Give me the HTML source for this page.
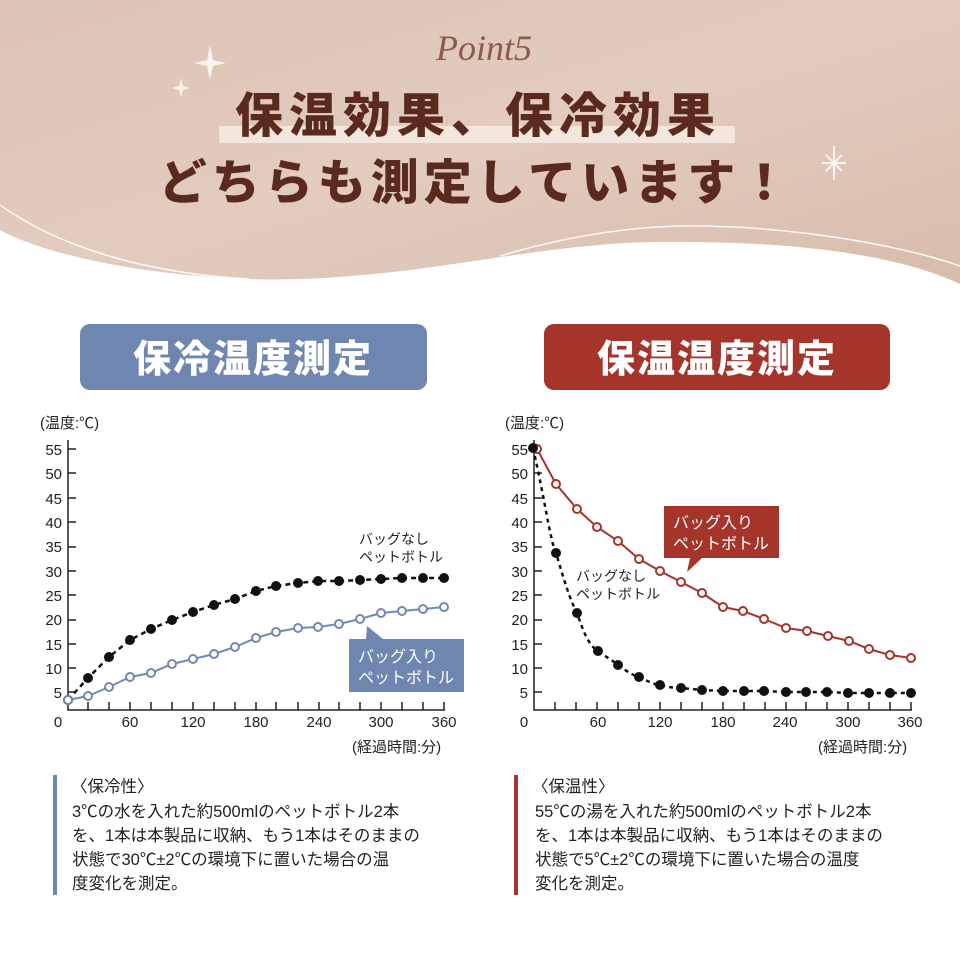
<!DOCTYPE html>
<html><head><meta charset="utf-8"><style>
html,body{margin:0;padding:0;background:#fff;}
svg{display:block;}
.jp{font-family:"Liberation Sans","Noto Sans CJK JP",sans-serif;}
</style></head><body>
<svg width="960" height="960" viewBox="0 0 960 960" xmlns="http://www.w3.org/2000/svg" class="jp">
<defs>
<linearGradient id="bg" x1="0" y1="0" x2="1" y2="1">
<stop offset="0" stop-color="#dcc3b5"/><stop offset="0.5" stop-color="#e2ccbf"/><stop offset="1" stop-color="#d8bcac"/>
</linearGradient>
</defs>
<path d="M0 0 H960 V284 C905 258 810 240 650 242 C520 245 400 284 245 279 C130 274 40 252 0 230 Z" fill="url(#bg)"/>
<path d="M0 205 C60 248 150 274 250 279" fill="none" stroke="#fff" stroke-width="1.5" opacity="0.9"/>
<path d="M500 256 C580 232 650 225 705 226 C800 228 900 245 960 266" fill="none" stroke="#fff" stroke-width="1.5" opacity="0.9"/>
<text x="484" y="60" text-anchor="middle" font-family="Liberation Serif,serif" font-style="italic" font-size="36" fill="#8b5a4a">Point5</text>
<path d="M210 45 L213 60 L226 63 L213 66 L210 80 L207 66 L194 63 L207 60 Z" fill="#fbf3ee"/>
<path d="M181 78 L183 86 L190 88 L183 90 L181 98 L179 90 L172 88 L179 86 Z" fill="#fbf3ee"/>
<g stroke="#fbf3ee" stroke-width="2"><line x1="834" y1="146" x2="834" y2="180"/><line x1="822" y1="163" x2="846" y2="163"/><line x1="826" y1="155" x2="842" y2="171"/><line x1="842" y1="155" x2="826" y2="171"/></g>
<rect x="219" y="126" width="516" height="17" fill="#f3e6dc"/>
<text x="478" y="132" text-anchor="middle" font-size="48" font-weight="900" letter-spacing="6" fill="#5a2a1e" font-family="Noto Sans CJK JP,sans-serif">保温効果、保冷効果</text>
<text x="476" y="199" text-anchor="middle" font-size="48" font-weight="900" letter-spacing="5" fill="#5a2a1e" font-family="Noto Sans CJK JP,sans-serif">どちらも測定しています！</text>
<rect x="80" y="324" width="347" height="66" rx="10" fill="#6f87b0"/>
<text x="253" y="372" text-anchor="middle" font-size="38" font-weight="900" fill="#fff" letter-spacing="2" font-family="Noto Sans CJK JP,sans-serif">保冷温度測定</text>
<rect x="544" y="324" width="346" height="66" rx="10" fill="#a5342a"/>
<text x="717" y="372" text-anchor="middle" font-size="38" font-weight="900" fill="#fff" letter-spacing="2" font-family="Noto Sans CJK JP,sans-serif">保温温度測定</text>

<!-- Left chart -->
<g font-size="15" fill="#222">
<text x="40" y="428">(温度:℃)</text>
<g text-anchor="end">
<text x="62" y="455">55</text><text x="62" y="479">50</text><text x="62" y="504">45</text><text x="62" y="528">40</text><text x="62" y="552">35</text><text x="62" y="577">30</text><text x="62" y="601">25</text><text x="62" y="625">20</text><text x="62" y="650">15</text><text x="62" y="674">10</text><text x="62" y="698">5</text>
</g>
<g text-anchor="middle"><text x="58" y="727">0</text><text x="130" y="727">60</text><text x="193" y="727">120</text><text x="256" y="727">180</text><text x="319" y="727">240</text><text x="381" y="727">300</text><text x="444" y="727">360</text></g>
<text x="352" y="752">(経過時間:分)</text>
</g>
<g stroke="#222" stroke-width="1.5" fill="none">
<path d="M68 440 V710 H445"/>
<path d="M68 449 h8 M68 473 h8 M68 498 h8 M68 522 h8 M68 547 h8 M68 571 h8 M68 595 h8 M68 620 h8 M68 644 h8 M68 668 h8 M68 692 h8"/>
<path d="M88 710 v-8 M109 710 v-8 M130 710 v-8 M151 710 v-8 M172 710 v-8 M193 710 v-8 M214 710 v-8 M235 710 v-8 M256 710 v-8 M276 710 v-8 M298 710 v-8 M319 710 v-8 M339 710 v-8 M360 710 v-8 M381 710 v-8 M402 710 v-8 M423 710 v-8 M444 710 v-8"/>
</g>
<polyline fill="none" stroke="#111" stroke-width="2.5" stroke-dasharray="5,4" points="68,700 88,678 109,657 130,640 151,629 172,620 193,612 214,605 235,599 256,591 276,586 298,583 318,581 339,581 360,580 381,579 402,578 423,578 444,578"/>
<g fill="#111"><circle cx="68" cy="700" r="5"/><circle cx="88" cy="678" r="5"/><circle cx="109" cy="657" r="5"/><circle cx="130" cy="640" r="5"/><circle cx="151" cy="629" r="5"/><circle cx="172" cy="620" r="5"/><circle cx="193" cy="612" r="5"/><circle cx="214" cy="605" r="5"/><circle cx="235" cy="599" r="5"/><circle cx="256" cy="591" r="5"/><circle cx="276" cy="586" r="5"/><circle cx="298" cy="583" r="5"/><circle cx="318" cy="581" r="5"/><circle cx="339" cy="581" r="5"/><circle cx="360" cy="580" r="5"/><circle cx="381" cy="579" r="5"/><circle cx="402" cy="578" r="5"/><circle cx="423" cy="578" r="5"/><circle cx="444" cy="578" r="5"/></g>
<polyline fill="none" stroke="#7188b0" stroke-width="2" points="68,700 88,696 109,687 130,677 151,673 172,664 193,659 214,654 235,647 256,638 276,632 298,628 318,627 339,624 360,619 381,613 402,611 423,609 444,607"/>
<g fill="#fff" stroke="#7188b0" stroke-width="2"><circle cx="68" cy="700" r="4"/><circle cx="88" cy="696" r="4"/><circle cx="109" cy="687" r="4"/><circle cx="130" cy="677" r="4"/><circle cx="151" cy="673" r="4"/><circle cx="172" cy="664" r="4"/><circle cx="193" cy="659" r="4"/><circle cx="214" cy="654" r="4"/><circle cx="235" cy="647" r="4"/><circle cx="256" cy="638" r="4"/><circle cx="276" cy="632" r="4"/><circle cx="298" cy="628" r="4"/><circle cx="318" cy="627" r="4"/><circle cx="339" cy="624" r="4"/><circle cx="360" cy="619" r="4"/><circle cx="381" cy="613" r="4"/><circle cx="402" cy="611" r="4"/><circle cx="423" cy="609" r="4"/><circle cx="444" cy="607" r="4"/></g>
<g font-size="14" fill="#222"><text x="359" y="544">バッグなし</text><text x="359" y="562">ペットボトル</text></g>
<path d="M349 639 H366 L367 626 L383 639 H464 V692 H349 Z" fill="#6f87b0"/>
<g font-size="16" fill="#fff"><text x="358" y="662">バッグ入り</text><text x="358" y="683">ペットボトル</text></g>

<!-- Right chart -->
<g font-size="15" fill="#222">
<text x="505" y="428">(温度:℃)</text>
<g text-anchor="end">
<text x="528" y="455">55</text><text x="528" y="479">50</text><text x="528" y="504">45</text><text x="528" y="528">40</text><text x="528" y="552">35</text><text x="528" y="577">30</text><text x="528" y="601">25</text><text x="528" y="625">20</text><text x="528" y="650">15</text><text x="528" y="674">10</text><text x="528" y="698">5</text>
</g>
<g text-anchor="middle"><text x="524" y="727">0</text><text x="598" y="727">60</text><text x="660" y="727">120</text><text x="723" y="727">180</text><text x="785" y="727">240</text><text x="848" y="727">300</text><text x="910" y="727">360</text></g>
<text x="818" y="752">(経過時間:分)</text>
</g>
<g stroke="#222" stroke-width="1.5" fill="none">
<path d="M534 440 V710 H912"/>
<path d="M534 449 h8 M534 473 h8 M534 498 h8 M534 522 h8 M534 547 h8 M534 571 h8 M534 595 h8 M534 620 h8 M534 644 h8 M534 668 h8 M534 692 h8"/>
<path d="M555 710 v-8 M576 710 v-8 M597 710 v-8 M618 710 v-8 M639 710 v-8 M660 710 v-8 M681 710 v-8 M702 710 v-8 M723 710 v-8 M744 710 v-8 M765 710 v-8 M786 710 v-8 M806 710 v-8 M827 710 v-8 M848 710 v-8 M869 710 v-8 M890 710 v-8 M911 710 v-8"/>
</g>
<polyline fill="none" stroke="#a5342a" stroke-width="2" points="537,449 556,484 577,509 597,527 618,541 639,559 660,571 681,582 702,593 723,607 743,611 764,619 786,628 807,631 828,636 849,641 869,649 890,655 911,658"/>
<g fill="#fff" stroke="#a5342a" stroke-width="2"><circle cx="537" cy="449" r="4"/><circle cx="556" cy="484" r="4"/><circle cx="577" cy="509" r="4"/><circle cx="597" cy="527" r="4"/><circle cx="618" cy="541" r="4"/><circle cx="639" cy="559" r="4"/><circle cx="660" cy="571" r="4"/><circle cx="681" cy="582" r="4"/><circle cx="702" cy="593" r="4"/><circle cx="723" cy="607" r="4"/><circle cx="743" cy="611" r="4"/><circle cx="764" cy="619" r="4"/><circle cx="786" cy="628" r="4"/><circle cx="807" cy="631" r="4"/><circle cx="828" cy="636" r="4"/><circle cx="849" cy="641" r="4"/><circle cx="869" cy="649" r="4"/><circle cx="890" cy="655" r="4"/><circle cx="911" cy="658" r="4"/></g>
<path fill="none" stroke="#111" stroke-width="2.5" stroke-dasharray="4,4" d="M533 448 C545 500 550 540 556 553 C564 580 570 600 577 613 C583 630 588 645 598 651 C606 657 612 660 618 665 C628 672 632 675 639 677 C648 681 652 684 660 685 C668 687 674 688 681 688 L702 690 L723 691 L744 691 L764 691 L786 692 L806 692 L827 692 L848 693 L869 693 L890 693 L911 693"/>
<g fill="#111"><circle cx="533" cy="448" r="5"/><circle cx="556" cy="553" r="5"/><circle cx="577" cy="613" r="5"/><circle cx="598" cy="651" r="5"/><circle cx="618" cy="665" r="5"/><circle cx="639" cy="677" r="5"/><circle cx="660" cy="685" r="5"/><circle cx="681" cy="688" r="5"/><circle cx="702" cy="690" r="5"/><circle cx="723" cy="691" r="5"/><circle cx="744" cy="691" r="5"/><circle cx="764" cy="691" r="5"/><circle cx="786" cy="692" r="5"/><circle cx="806" cy="692" r="5"/><circle cx="827" cy="692" r="5"/><circle cx="848" cy="693" r="5"/><circle cx="869" cy="693" r="5"/><circle cx="890" cy="693" r="5"/><circle cx="911" cy="693" r="5"/></g>
<g font-size="14" fill="#222"><text x="576" y="581">バッグなし</text><text x="576" y="599">ペットボトル</text></g>
<path d="M664 506 H779 V558 H702 L687 572 L690 558 H664 Z" fill="#a5342a"/>
<g font-size="16" fill="#fff"><text x="673" y="528">バッグ入り</text><text x="673" y="549">ペットボトル</text></g>

<!-- Bottom text -->
<rect x="53" y="775" width="4" height="120" fill="#6f87b0"/>
<rect x="514" y="775" width="4" height="120" fill="#a5342a"/>
<g font-size="16.5" fill="#222">
<text x="71" y="792">〈保冷性〉</text>
<text x="72" y="817">3℃の水を入れた約500mlのペットボトル2本</text>
<text x="72" y="841">を、1本は本製品に収納、もう1本はそのままの</text>
<text x="72" y="865">状態で30℃±2℃の環境下に置いた場合の温</text>
<text x="72" y="889">度変化を測定。</text>
<text x="532" y="792">〈保温性〉</text>
<text x="535" y="817">55℃の湯を入れた約500mlのペットボトル2本</text>
<text x="535" y="841">を、1本は本製品に収納、もう1本はそのままの</text>
<text x="535" y="865">状態で5℃±2℃の環境下に置いた場合の温度</text>
<text x="535" y="889">変化を測定。</text>
</g>
</svg>
</body></html>
